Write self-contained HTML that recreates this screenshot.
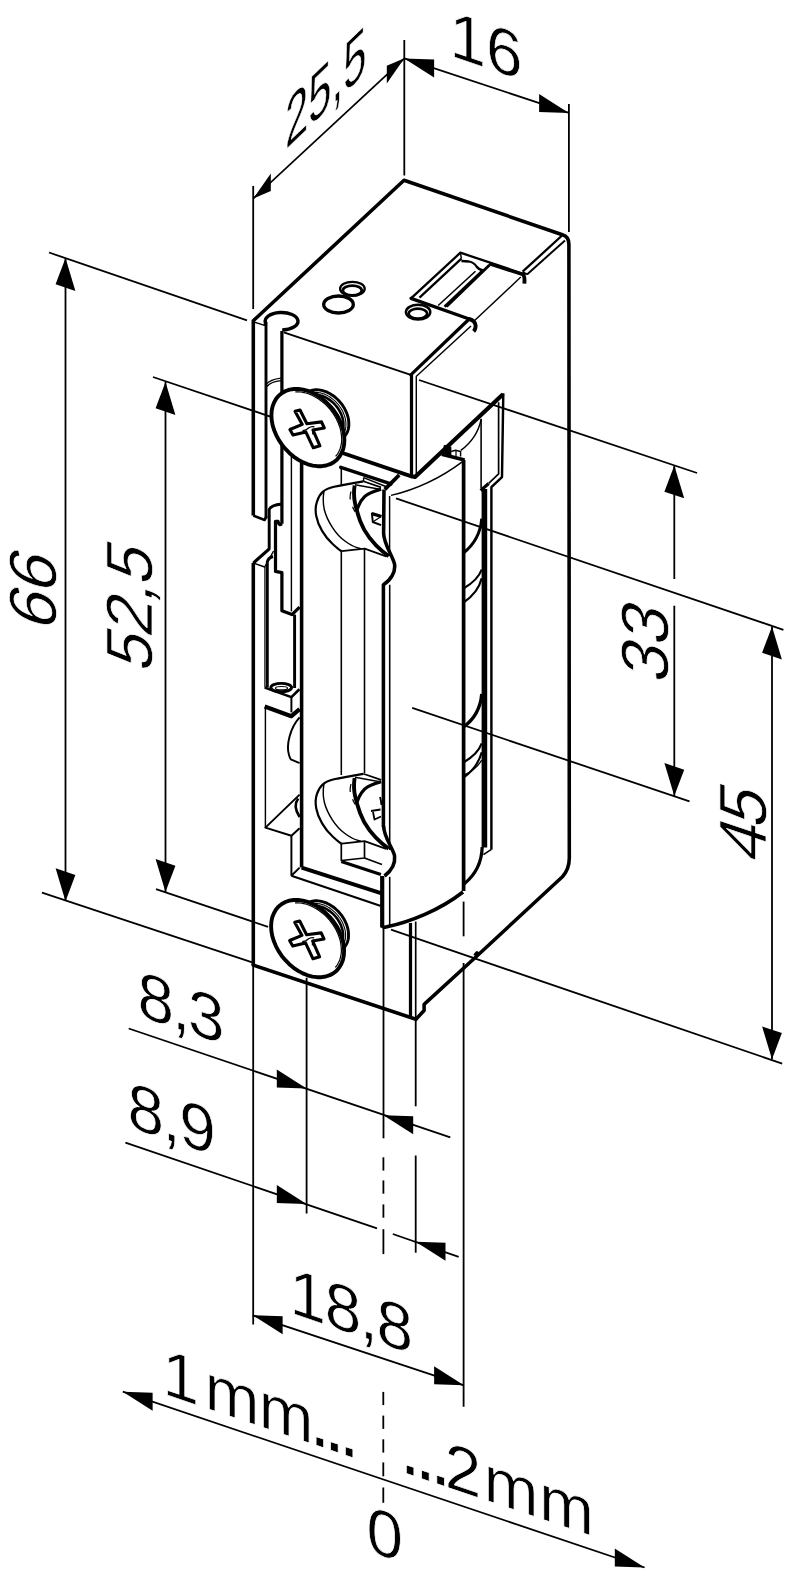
<!DOCTYPE html>
<html lang="de"><head><meta charset="utf-8"><title>Maßzeichnung</title>
<style>html,body{margin:0;padding:0;background:#fff}svg{display:block}text{stroke:#fff;stroke-width:0.7px}</style>
</head><body>
<svg width="788" height="1585" viewBox="0 0 788 1585" stroke="#000" fill="#000" stroke-linejoin="round" font-family="'Liberation Sans', sans-serif">
<line x1="253.2" y1="186" x2="253.2" y2="309" stroke-width="1.8" stroke-linecap="butt"/>
<line x1="404.3" y1="40" x2="404.3" y2="175.5" stroke-width="1.8" stroke-linecap="butt"/>
<line x1="568.9" y1="104" x2="568.9" y2="232" stroke-width="1.8" stroke-linecap="butt"/>
<line x1="253.2" y1="198.6" x2="404.4" y2="58.3" stroke-width="1.8" stroke-linecap="butt"/>
<path d="M253.2 198.6 L270.8 173.5 L270.8 191.1 Z" fill="#000" stroke="none"/>
<path d="M404.4 58.3 L386.8 65.8 L386.8 83.4 Z" fill="#000" stroke="none"/>
<line x1="404.3" y1="58.4" x2="568.9" y2="112.9" stroke-width="1.8" stroke-linecap="butt"/>
<path d="M404.3 58.4 L434.1 59.4 L434.1 77.4 Z" fill="#000" stroke="none"/>
<path d="M568.9 112.9 L539.1 93.9 L539.1 111.9 Z" fill="#000" stroke="none"/>
<line x1="49" y1="252.5" x2="247" y2="320.3" stroke-width="1.8" stroke-linecap="butt"/>
<line x1="65.5" y1="258" x2="65.5" y2="901" stroke-width="1.8" stroke-linecap="butt"/>
<path d="M65.5 258 L55.6 284.3 L75.4 290.9 Z" fill="#000" stroke="none"/>
<path d="M65.5 901.2 L55.6 868.3 L75.4 874.9 Z" fill="#000" stroke="none"/>
<line x1="42" y1="892.7" x2="253" y2="962.7" stroke-width="1.8" stroke-linecap="butt"/>
<line x1="153" y1="377" x2="271" y2="416.8" stroke-width="1.8" stroke-linecap="butt"/>
<line x1="165.5" y1="382" x2="165.5" y2="892" stroke-width="1.8" stroke-linecap="butt"/>
<path d="M165.5 382 L155.6 408.3 L175.4 414.9 Z" fill="#000" stroke="none"/>
<path d="M165.5 892 L155.6 859.1 L175.4 865.7 Z" fill="#000" stroke="none"/>
<line x1="156" y1="889.2" x2="268" y2="926.8" stroke-width="1.8" stroke-linecap="butt"/>
<line x1="419" y1="380" x2="697.1" y2="473" stroke-width="1.8" stroke-linecap="butt"/>
<line x1="674.3" y1="465.4" x2="674.3" y2="579" stroke-width="1.8" stroke-linecap="butt"/>
<line x1="674.3" y1="605.7" x2="674.3" y2="796" stroke-width="1.8" stroke-linecap="butt"/>
<path d="M674.3 465.4 L664.4 491.7 L684.2 498.3 Z" fill="#000" stroke="none"/>
<path d="M674.3 796 L664.4 763.1 L684.2 769.7 Z" fill="#000" stroke="none"/>
<line x1="412.2" y1="707.9" x2="689.5" y2="801.4" stroke-width="1.8" stroke-linecap="butt"/>
<line x1="396" y1="498.4" x2="783.4" y2="629.8" stroke-width="1.8" stroke-linecap="butt"/>
<line x1="772" y1="626.5" x2="772" y2="1059.3" stroke-width="1.8" stroke-linecap="butt"/>
<path d="M772 626.5 L762.1 652.8 L781.9 659.4 Z" fill="#000" stroke="none"/>
<path d="M772 1059.3 L762.1 1026.4 L781.9 1033 Z" fill="#000" stroke="none"/>
<line x1="391" y1="929.7" x2="782.2" y2="1063.6" stroke-width="1.8" stroke-linecap="butt"/>
<line x1="253.2" y1="965" x2="253.2" y2="1324.5" stroke-width="1.8" stroke-linecap="butt"/>
<line x1="306.6" y1="977.7" x2="306.6" y2="1213.5" stroke-width="1.8" stroke-linecap="butt"/>
<line x1="383.5" y1="927" x2="383.5" y2="1138.3" stroke-width="1.8" stroke-linecap="butt"/>
<line x1="383.4" y1="1157.3" x2="383.4" y2="1170.6" stroke-width="1.8" stroke-linecap="butt"/>
<line x1="383.4" y1="1180.4" x2="383.4" y2="1193.7" stroke-width="1.8" stroke-linecap="butt"/>
<line x1="383.4" y1="1204.4" x2="383.4" y2="1217.7" stroke-width="1.8" stroke-linecap="butt"/>
<line x1="383.4" y1="1229.2" x2="383.4" y2="1254.1" stroke-width="1.8" stroke-linecap="butt"/>
<line x1="415.7" y1="1018.3" x2="415.7" y2="1106.3" stroke-width="1.8" stroke-linecap="butt"/>
<line x1="415.7" y1="1155.5" x2="415.7" y2="1252.7" stroke-width="1.8" stroke-linecap="butt"/>
<line x1="463.6" y1="963" x2="463.6" y2="1406.7" stroke-width="1.8" stroke-linecap="butt"/>
<line x1="463.6" y1="901.6" x2="463.6" y2="936.3" stroke-width="1.8" stroke-linecap="butt"/>
<line x1="128.7" y1="1028.5" x2="450.3" y2="1137.4" stroke-width="1.8" stroke-linecap="butt"/>
<path d="M306.6 1088.6 L276.8 1069.6 L276.8 1087.6 Z" fill="#000" stroke="none"/>
<path d="M383.4 1115.2 L413.2 1116.2 L413.2 1134.2 Z" fill="#000" stroke="none"/>
<line x1="125.4" y1="1142.7" x2="377" y2="1228.3" stroke-width="1.8" stroke-linecap="butt"/>
<line x1="392.8" y1="1234" x2="458.7" y2="1256.8" stroke-width="1.8" stroke-linecap="butt"/>
<path d="M306.6 1204 L276.8 1185 L276.8 1203 Z" fill="#000" stroke="none"/>
<path d="M415.7 1241.8 L445.5 1242.8 L445.5 1260.8 Z" fill="#000" stroke="none"/>
<line x1="252.8" y1="1315.3" x2="463.9" y2="1385.3" stroke-width="1.8" stroke-linecap="butt"/>
<path d="M252.8 1315.3 L282.6 1316.3 L282.6 1334.3 Z" fill="#000" stroke="none"/>
<path d="M463.9 1385.3 L434.1 1366.3 L434.1 1384.3 Z" fill="#000" stroke="none"/>
<line x1="122.8" y1="1391.7" x2="644.6" y2="1567.5" stroke-width="1.8" stroke-linecap="butt"/>
<path d="M122.8 1391.7 L152.6 1392.7 L152.6 1410.7 Z" fill="#000" stroke="none"/>
<path d="M644.6 1567.5 L614.8 1548.5 L614.8 1566.5 Z" fill="#000" stroke="none"/>
<line x1="383.3" y1="1391.9" x2="383.3" y2="1405.1" stroke-width="1.8" stroke-linecap="butt"/>
<line x1="383.3" y1="1415.6" x2="383.3" y2="1428.9" stroke-width="1.8" stroke-linecap="butt"/>
<line x1="383.3" y1="1439.3" x2="383.3" y2="1452.6" stroke-width="1.8" stroke-linecap="butt"/>
<line x1="383.3" y1="1462.4" x2="383.3" y2="1476.3" stroke-width="1.8" stroke-linecap="butt"/>
<line x1="383.3" y1="1487.5" x2="383.3" y2="1502.8" stroke-width="1.8" stroke-linecap="butt"/>
<text transform="matrix(1 0.337 0 1 449.4 55.6)" font-size="65.6">16</text>
<text transform="matrix(1 0.337 0 1 137.6 1015.5)" font-size="65.6" letter-spacing="-2.2">8,3</text>
<text transform="matrix(1 0.337 0 1 127.5 1126.4)" font-size="65.6" letter-spacing="-1.5">8,9</text>
<text transform="matrix(1 0.337 0 1 289.6 1312.6)" font-size="65.6" letter-spacing="-1.4">18,8</text>
<text transform="matrix(1 0.337 0 1 162.5 1393.6)" font-size="65.6" letter-spacing="-0.7">1<tspan dx="6.5">mm</tspan><tspan dx="-4" font-size="80" letter-spacing="-7.6">...</tspan></text>
<text transform="matrix(1 0.337 0 1 399 1471)" font-size="65.6" letter-spacing="-0.5"><tspan font-size="80" letter-spacing="-7">...</tspan>2<tspan dx="3" letter-spacing="1">mm</tspan></text>
<text transform="matrix(1 0.337 0 1 366.6 1550.5)" font-size="65.6">0</text>
<text transform="matrix(0.639 -0.6134 0 1.07 285 150.5)" font-size="65.6">25,5</text>
<text transform="matrix(0 -1 1 0.337 56.2 633)" font-size="67">66</text>
<text transform="matrix(0 -1 1 0.337 152 674)" font-size="65.6" letter-spacing="-1.5">52,5</text>
<text transform="matrix(0 -1 1 0.337 668.3 685.4)" font-size="67">33</text>
<text transform="matrix(0 -1 1 0.337 765.8 865)" font-size="67" letter-spacing="-3">45</text>
<path d="M253.3 515.5 L253.3 320.8 L404 180.3 L562.4 234.7 Q568.8 236.5 568.9 244 L569.3 858 Q569.3 869 562.4 876.8 L476.1 956.7 L426 1002.6 L424.1 1004.6 L424.1 1010.5 L415.9 1019.3" stroke-width="3.56" fill="none"/>
<line x1="253.2" y1="965" x2="415.9" y2="1019.3" stroke-width="3.56" stroke-linecap="round"/>
<line x1="283.8" y1="332.4" x2="410.8" y2="374.9" stroke-width="1.96" stroke-linecap="butt"/>
<line x1="410.8" y1="374.9" x2="469.2" y2="319" stroke-width="3.24" stroke-linecap="round"/>
<line x1="415.9" y1="376.8" x2="471" y2="326" stroke-width="1.44" stroke-linecap="butt"/>
<path d="M469.2 319 Q475 320.5 475.6 325.4 Q475.9 329 473.6 331.4" stroke-width="3.88" fill="none"/>
<path d="M411 298.4 L460.4 252.7 L522.6 273.5" stroke-width="2.28" fill="none"/>
<line x1="411" y1="298.4" x2="469.2" y2="319" stroke-width="3.24" stroke-linecap="round"/>
<line x1="461.4" y1="258.6" x2="419.5" y2="297.6" stroke-width="2.28" stroke-linecap="butt"/>
<line x1="460.4" y1="252.7" x2="461.4" y2="258.6" stroke-width="1.44" stroke-linecap="butt"/>
<path d="M461.4 261 L469 261.5 Q474 262.5 476.5 266.5 Q479 270 483.5 270.5" stroke-width="2.28" fill="none"/>
<line x1="475.5" y1="271.2" x2="438.2" y2="305.5" stroke-width="1.56" stroke-linecap="butt"/>
<line x1="482.3" y1="271" x2="444.6" y2="306.7" stroke-width="2.92" stroke-linecap="butt"/>
<line x1="489.5" y1="265" x2="446.5" y2="306.5" stroke-width="2.92" stroke-linecap="butt"/>
<line x1="490.6" y1="264.3" x2="522.6" y2="274.5" stroke-width="3.24" stroke-linecap="round"/>
<line x1="520.8" y1="277.1" x2="474.9" y2="320.3" stroke-width="1.44" stroke-linecap="butt"/>
<path d="M522.6 273.5 Q525 276 524.4 283.6" stroke-width="3.88" fill="none"/>
<line x1="522.6" y1="271.7" x2="561.5" y2="236" stroke-width="2.28" stroke-linecap="butt"/>
<line x1="527" y1="274.4" x2="565" y2="240.5" stroke-width="1.96" stroke-linecap="butt"/>
<line x1="522.6" y1="272" x2="527" y2="274.4" stroke-width="1.96" stroke-linecap="butt"/>
<ellipse cx="352.4" cy="288.8" rx="12.3" ry="7" stroke-width="2.28" fill="none"/>
<ellipse cx="352.3" cy="290.5" rx="9.4" ry="4.9" stroke-width="2.76" fill="none"/>
<ellipse cx="338.5" cy="304.5" rx="14.8" ry="8.5" stroke-width="3.3" fill="#fff"/>
<ellipse cx="418.1" cy="312.1" rx="12.2" ry="7.4" stroke-width="2.44" fill="none"/>
<ellipse cx="417.9" cy="313.6" rx="9.2" ry="5" stroke-width="2.6" fill="none"/>
<line x1="253.3" y1="563.1" x2="253.3" y2="965" stroke-width="3.56" stroke-linecap="butt"/>
<line x1="252.7" y1="321.6" x2="264.5" y2="325.4" stroke-width="1.44" stroke-linecap="butt"/>
<line x1="266" y1="322" x2="266" y2="518.7" stroke-width="2.92" stroke-linecap="butt"/>
<path d="M253.3 515.5 L264.7 520 L266.5 516" stroke-width="2.6" fill="none"/>
<path d="M265.4 326 L265.4 322.6 A16.4 8.7 0 1 1 282.2 329.9" stroke-width="3.4" fill="none"/>
<line x1="281.9" y1="331" x2="281.9" y2="523.8" stroke-width="3.24" stroke-linecap="butt"/>
<path d="M266 384.5 Q270 379.5 281 378.2 M267 386.5 Q271 381.5 281 380.6" stroke-width="1.32" fill="none"/>
<path d="M269.2 549 L269.2 509.5 Q271 505 281.9 504" stroke-width="2.92" fill="none"/>
<path d="M281.9 523.8 Q279 526 278 521.3 L275.5 521.3 L275.5 571.4 L281.9 572.7 L281.9 610.8 L292 614.6 L299.6 607.2" stroke-width="3.24" fill="none"/>
<line x1="291.4" y1="445" x2="291.4" y2="611.4" stroke-width="1.44" stroke-linecap="butt"/>
<line x1="301.6" y1="450" x2="301.6" y2="867.6" stroke-width="3.56" stroke-linecap="butt"/>
<path d="M269.6 548.6 L253.3 563.1" stroke-width="3.24" fill="none"/>
<path d="M253.3 563.1 L264.7 567 L273.6 551" stroke-width="1.44" fill="none"/>
<path d="M267.3 687.6 L267.3 562 Q268 558 273 556.5" stroke-width="2.92" fill="none"/>
<line x1="264.9" y1="567" x2="264.9" y2="687.6" stroke-width="1.2" stroke-linecap="butt"/>
<line x1="294.6" y1="614.6" x2="294.6" y2="688" stroke-width="2.92" stroke-linecap="butt"/>
<ellipse cx="281.2" cy="687.6" rx="10.4" ry="4.2" stroke-width="2.92" fill="none"/>
<ellipse cx="281.5" cy="688.2" rx="6" ry="1.7" stroke-width="1.2" fill="none"/>
<path d="M264.7 687.6 L291.4 697.1 L299.4 689.2" stroke-width="2.6" fill="none"/>
<line x1="291.4" y1="697.1" x2="291.4" y2="712.4" stroke-width="1.96" stroke-linecap="butt"/>
<path d="M264.7 706.6 L291.4 716.2 L299.6 709.2" stroke-width="4.2" fill="none"/>
<line x1="265.4" y1="707.3" x2="265.4" y2="827.6" stroke-width="1.44" stroke-linecap="butt"/>
<path d="M299.6 717.4 C290 728 286 745 289 755 Q290 758.5 290.8 759.3 L299.6 763.1" stroke-width="1.96" fill="none"/>
<path d="M299.6 794.6 L265.4 827.6 L291.4 835.8 L299.6 828.2" stroke-width="1.96" fill="none"/>
<path d="M298.2 798.5 Q292.5 806 299.6 817" stroke-width="2.6" fill="none"/>
<line x1="291.4" y1="835.8" x2="291.4" y2="875.8" stroke-width="1.96" stroke-linecap="butt"/>
<line x1="291.4" y1="875.8" x2="299.6" y2="867.6" stroke-width="1.96" stroke-linecap="butt"/>
<line x1="291.4" y1="875.8" x2="380.9" y2="906" stroke-width="2.12" stroke-linecap="butt"/>
<line x1="301.6" y1="867.6" x2="380.9" y2="893.2" stroke-width="3.88" stroke-linecap="butt"/>
<line x1="411.5" y1="374.9" x2="411.5" y2="476.3" stroke-width="3.24" stroke-linecap="butt"/>
<line x1="416.3" y1="376.8" x2="416.3" y2="476.5" stroke-width="1.44" stroke-linecap="butt"/>
<line x1="344" y1="453.5" x2="411.5" y2="476.3" stroke-width="3.88" stroke-linecap="round"/>
<path d="M411.5 476.3 L415 477 L503 394.2" stroke-width="4.2" fill="none"/>
<line x1="340.8" y1="467.4" x2="390.9" y2="483.9" stroke-width="3.56" stroke-linecap="round"/>
<line x1="341.3" y1="467.4" x2="341.3" y2="485.5" stroke-width="1.56" stroke-linecap="butt"/>
<line x1="341.3" y1="551.2" x2="341.3" y2="775" stroke-width="1.56" stroke-linecap="butt"/>
<line x1="364.5" y1="548.7" x2="364.5" y2="773" stroke-width="1.56" stroke-linecap="butt"/>
<line x1="363.6" y1="477.6" x2="385.8" y2="486.5" stroke-width="1.44" stroke-linecap="butt"/>
<line x1="363.6" y1="477.6" x2="363.6" y2="481" stroke-width="1.44" stroke-linecap="butt"/>
<line x1="399.2" y1="475" x2="384.8" y2="489.4" stroke-width="3.88" stroke-linecap="butt"/>
<path d="M384 489.6 L383.6 533.5 C384 545 393 556 394.6 564.4 C395.5 572 391 580 383.4 584.7 L383.4 827" stroke-width="3.56" fill="none"/>
<line x1="389.6" y1="496" x2="389.6" y2="556" stroke-width="1.44" stroke-linecap="butt"/>
<line x1="389.7" y1="584.7" x2="389.7" y2="850" stroke-width="1.56" stroke-linecap="butt"/>
<path d="M381.1 516.3 L371.9 513.6 L372.8 522 L381.1 525.2" stroke-width="1.96" fill="none"/>
<line x1="371.9" y1="513.6" x2="381.5" y2="516.5" stroke-width="3.24" stroke-linecap="butt"/>
<line x1="373" y1="521.8" x2="380" y2="517.3" stroke-width="1.2" stroke-linecap="butt"/>
<path d="M391 495.4 Q430 486 462.2 461.8" stroke-width="1.44" fill="none"/>
<path d="M383.6 826 C384 838 393 848 394.6 856 C395.5 864 391 871 384.5 876" stroke-width="3.56" fill="none"/>
<line x1="382.2" y1="876" x2="382.2" y2="927.5" stroke-width="4.2" stroke-linecap="butt"/>
<line x1="389.7" y1="876.8" x2="389.7" y2="925" stroke-width="1.56" stroke-linecap="butt"/>
<path d="M382.2 925 Q382.4 927.8 386 927 C410 922 440 910 463 892" stroke-width="3.56" fill="none"/>
<path d="M341.3 843.7 L341.3 860.5 L364.5 858 L364.5 841.2" stroke-width="1.68" fill="none"/>
<line x1="364.5" y1="858" x2="382" y2="864.5" stroke-width="1.68" stroke-linecap="butt"/>
<line x1="341.3" y1="861.5" x2="380.9" y2="874.5" stroke-width="3.24" stroke-linecap="butt"/>
<path d="M371 811 L380.5 809.5 M373 812 L374.5 819.5 L381 816.5 M380 797 q1.2 4 1.4 8" stroke-width="1.8" fill="none"/>
<line x1="463.6" y1="460" x2="463.6" y2="891" stroke-width="3.72" stroke-linecap="butt"/>
<line x1="441.7" y1="454.2" x2="464.6" y2="460" stroke-width="3.56" stroke-linecap="butt"/>
<path d="M444.6 446 L444.6 454.5 L450.4 455.5 L450.4 447.5 Z" stroke-width="1.96" fill="#000"/>
<path d="M451.2 451.5 L455.5 450.2 L460.6 451.5 L460.6 456.5" stroke-width="1.44" fill="none"/>
<line x1="456" y1="450.5" x2="456" y2="457" stroke-width="1.2" stroke-linecap="butt"/>
<path d="M481.1 419.3 C478 435 468 445 460.8 450.4" stroke-width="1.44" fill="none"/>
<line x1="481.1" y1="418.7" x2="481.1" y2="488" stroke-width="1.56" stroke-linecap="butt"/>
<path d="M503.3 393.3 L502 477.1 L491.4 487.2 L491.4 849.4" stroke-width="2.44" fill="none"/>
<path d="M498.6 402.2 L498.6 473.9 L488.7 483.4" stroke-width="1.68" fill="none"/>
<line x1="484.4" y1="489" x2="484.4" y2="847.4" stroke-width="5.6" stroke-linecap="butt"/>
<path d="M480.6 490.4 L488.7 483.4" stroke-width="3.24" fill="none"/>
<path d="M481.7 518.7 Q480 540 463.5 553" stroke-width="2.92" fill="none"/>
<path d="M481.7 569.5 Q478 580 463.5 588.5" stroke-width="2.12" fill="none"/>
<path d="M481.7 578.3 Q478 593 463.5 602.5" stroke-width="2.12" fill="none"/>
<path d="M481.7 694 Q480 715 463.5 727" stroke-width="3.24" fill="none"/>
<path d="M481.7 743.4 Q478 754 463.5 762.5" stroke-width="2.12" fill="none"/>
<path d="M481.7 752.3 Q478 767 463.5 777.7" stroke-width="2.12" fill="none"/>
<path d="M481.7 760 Q476 770 463.5 775.3" stroke-width="1.32" fill="none"/>
<path d="M482.2 847 Q481.5 870 464 884" stroke-width="3.24" fill="none"/>
<line x1="491.4" y1="849.4" x2="483.4" y2="854.6" stroke-width="1.68" stroke-linecap="butt"/>
<line x1="410.5" y1="923" x2="410.5" y2="1017.8" stroke-width="3.24" stroke-linecap="butt"/>
<line x1="415.7" y1="921.5" x2="415.7" y2="1019" stroke-width="1.68" stroke-linecap="butt"/>
<path d="M474.5 955.5 l2.5 -3 l2 2.4" stroke-width="2.92" fill="none"/>
<path d="M363.3 481.3 Q341.7 485 334.1 486.8 Q326.5 488.5 322.7 491.9 Q318.9 495.4 316.9 501.8 Q314.8 508.1 316.2 515.7 Q317.6 523.3 322.1 530.9 Q326.5 538.5 332.9 544.2 Q339.2 549.9 340.4 550.5 L341.7 551.2" stroke-width="2.2" fill="none"/>
<path d="M341.7 551.2 L364.6 548.7 L386.1 556.3" stroke-width="1.8" fill="none"/>
<path d="M363.3 481.3 L381.1 487.4" stroke-width="1.68" fill="none"/>
<path d="M355 484.8 L381.1 489.5" stroke-width="1.44" fill="none"/>
<path d="M324 490.9 Q322.3 501.7 324.4 510 Q326.5 518.2 332.2 527.1 Q337.9 536 344.9 541 Q351.9 546.1 356.4 547.4 L360.8 548.7" stroke-width="1.44" fill="none"/>
<path d="M354.6 485.5 Q353.2 495.4 355.1 503.6 Q357 511.9 360.1 520.8 Q363.3 529.6 369.6 537.9 Q376 546.1 382.4 551.2 L388.7 556.3" stroke-width="3.88" fill="none"/>
<path d="M381.1 489.3 Q368.4 492.8 364.6 496.6 Q360.8 500.5 359 504.8 L357.2 509" stroke-width="3.24" fill="none"/>
<path d="M351 491.5 q-1.2 4 -0.8 8 M352.6 506.8 q1 3 2.6 5" stroke-width="1.2" fill="none"/>
<path d="M363.3 773.8 Q341.7 777.5 334.1 779.2 Q326.5 781 322.7 784.5 Q318.9 787.9 316.9 794.2 Q314.8 800.6 316.2 808.2 Q317.6 815.8 322.1 823.4 Q326.5 831 332.9 836.7 Q339.2 842.4 340.4 843 L341.7 843.7" stroke-width="2.2" fill="none"/>
<path d="M341.7 843.7 L364.6 841.2 L386.1 848.8" stroke-width="1.8" fill="none"/>
<path d="M363.3 773.8 L381.1 779.9" stroke-width="1.68" fill="none"/>
<path d="M355 777.3 L381.1 782" stroke-width="1.44" fill="none"/>
<path d="M324 783.4 Q322.3 794.2 324.4 802.5 Q326.5 810.7 332.2 819.6 Q337.9 828.5 344.9 833.5 Q351.9 838.6 356.4 839.9 L360.8 841.2" stroke-width="1.44" fill="none"/>
<path d="M354.6 778 Q353.2 787.9 355.1 796.1 Q357 804.4 360.1 813.2 Q363.3 822.1 369.6 830.4 Q376 838.6 382.4 843.7 L388.7 848.8" stroke-width="3.88" fill="none"/>
<path d="M381.1 781.8 Q368.4 785.3 364.6 789.1 Q360.8 793 359 797.2 L357.2 801.5" stroke-width="3.24" fill="none"/>
<path d="M351 784 q-1.2 4 -0.8 8 M352.6 799.3 q1 3 2.6 5" stroke-width="1.2" fill="none"/>
<path d="M308.7 391.6 L309.9 391 L311.3 390.5 L312.6 390.2 L314.1 389.9 L315.5 389.8 L317 389.8 L318.6 389.9 L320.2 390.1 L321.7 390.4 L323.3 390.8 L324.9 391.3 L326.5 391.9 L328.1 392.7 L329.7 393.5 L331.2 394.4 L332.8 395.4 L334.2 396.5 L335.7 397.7 L337.1 399 L338.4 400.3 L339.7 401.7 L340.9 403.1 L342.1 404.6 L343.1 406.2 L344.1 407.8 L345 409.4 L345.8 411.1 L346.6 412.8 L347.2 414.5 L347.7 416.2 L348.2 417.9 L348.5 419.5 L348.7 421.2 L348.8 422.9 L348.8 424.5 L348.8 426.1 L348.6 427.6 L348.3 429.1 L347.9 430.5 L347.4 431.9 L346.8 433.1 L346.1 434.4 L345.3 435.5 L344.4 436.6 L343.5 437.5 L342.4 438.4 L341.3 439.2 L340.1 439.8" stroke-width="2.92" fill="none"/>
<path d="M311.7 392.9 L312.9 392.7 L314.1 392.5 L315.3 392.4 L316.6 392.4 L317.8 392.5 L319.1 392.7 L320.5 392.9 L321.8 393.3 L323.1 393.7 L324.4 394.1 L325.7 394.7 L327.1 395.3 L328.4 396.1 L329.6 396.8 L330.9 397.7 L332.1 398.6 L333.3 399.6 L334.5 400.6 L335.6 401.7 L336.7 402.8 L337.8 404 L338.8 405.2 L339.7 406.5 L340.6 407.7 L341.4 409.1 L342.2 410.4 L342.9 411.8 L343.5 413.2 L344 414.6 L344.5 416 L345 417.4 L345.3 418.8 L345.6 420.2 L345.8 421.6 L345.9 422.9 L345.9 424.3 L345.9 425.6 L345.8 426.9 L345.6 428.2 L345.3 429.4 L345 430.5 L344.5 431.7 L344 432.7 L343.5 433.8 L342.9 434.7 L342.2 435.6 L341.4 436.5 L340.6 437.2" stroke-width="1.08" fill="none"/>
<path d="M309.9 395.7 L310.9 395.3 L312 395.1 L313.1 394.9 L314.2 394.8 L315.4 394.8 L316.6 394.8 L317.8 394.9 L319 395.1 L320.2 395.4 L321.5 395.7 L322.7 396.1 L324 396.6 L325.2 397.2 L326.4 397.8 L327.6 398.5 L328.8 399.3 L330 400.1 L331.1 401 L332.2 401.9 L333.3 402.9 L334.3 403.9 L335.3 405 L336.3 406.1 L337.2 407.3 L338.1 408.5 L338.8 409.7 L339.6 411 L340.3 412.3 L340.9 413.5 L341.5 414.8 L341.9 416.2 L342.4 417.5 L342.7 418.8 L343 420.1 L343.2 421.4 L343.4 422.7 L343.4 424 L343.4 425.2 L343.4 426.4 L343.2 427.6 L343 428.8 L342.7 429.9 L342.4 431 L341.9 432 L341.5 433 L340.9 433.9 L340.3 434.8 L339.6 435.6" stroke-width="2.6" fill="none"/>
<path d="M344.4 439.9 L344.1 444.6 L343.2 449 L341.6 453 L339.5 456.6 L336.9 459.7 L333.7 462.2 L330.1 464.2 L326.1 465.5 L321.9 466.2 L317.3 466.2 L312.7 465.6 L307.9 464.3 L303.1 462.4 L298.5 459.9 L293.9 456.8 L289.6 453.2 L285.7 449.2 L282.1 444.9 L278.9 440.2 L276.3 435.3 L274.2 430.3 L272.6 425.2 L271.7 420.2 L271.4 415.3 L271.7 410.6 L272.6 406.2 L274.2 402.2 L276.3 398.6 L278.9 395.5 L282.1 393 L285.7 391 L289.6 389.7 L293.9 389 L298.5 389 L303.1 389.6 L307.9 390.9 L312.7 392.8 L317.3 395.3 L321.9 398.4 L326.1 402 L330.1 406 L333.7 410.3 L336.9 415 L339.5 419.9 L341.6 424.9 L343.2 430 L344.1 435 L344.4 439.9 Z" stroke-width="3.88" fill="#fff"/>
<path d="M295.3 391.9 L296.9 391.8 L298.7 391.8 L300.4 392 L302.2 392.2 L304 392.6 L305.8 393 L307.6 393.5 L309.4 394.2 L311.2 394.9 L313 395.7 L314.7 396.7 L316.5 397.7 L318.2 398.8 L319.9 399.9 L321.6 401.2 L323.2 402.5 L324.8 403.9 L326.4 405.4 L327.8 406.9 L329.3 408.5 L330.6 410.2 L331.9 411.9 L333.2 413.6 L334.3 415.4 L335.4 417.2 L336.4 419 L337.3 420.9 L338.2 422.8 L338.9 424.7 L339.6 426.6 L340.2 428.5 L340.7 430.4 L341 432.3 L341.3 434.2 L341.5 436.1 L341.6 437.9 L341.7 439.8 L341.6 441.5 L341.4 443.3 L341.1 445 L340.7 446.6 L340.3 448.2 L339.7 449.7 L339 451.2 L338.3 452.6 L337.5 454 L336.6 455.2 L335.6 456.4" stroke-width="1.2" fill="none"/>
<path d="M295 411.3 L300 410 L306.9 423.8 L321.5 421.9 L324.3 428 L312.9 429.9 L319.9 445.8 L313.3 447.8 L305.8 431.9 L293 435.1 L289.9 429.5 L302.3 424.4 Z" stroke-width="3.08" fill="none"/>
<path d="M302.5 430.6 q4 -0.3 6 -2.6 q2.5 -2 6 -1.2" stroke-width="1.2" fill="none"/>
<path d="M314.6 429.4 q-1.8 1.2 -1.4 5" stroke-width="2.12" fill="none"/>
<path d="M308.4 902.6 L309.6 902 L311 901.5 L312.3 901.2 L313.8 900.9 L315.2 900.8 L316.7 900.8 L318.3 900.9 L319.9 901.1 L321.4 901.4 L323 901.8 L324.6 902.3 L326.2 902.9 L327.8 903.7 L329.4 904.5 L330.9 905.4 L332.5 906.4 L333.9 907.5 L335.4 908.7 L336.8 910 L338.1 911.3 L339.4 912.7 L340.6 914.1 L341.8 915.6 L342.8 917.2 L343.8 918.8 L344.7 920.4 L345.5 922.1 L346.3 923.8 L346.9 925.5 L347.4 927.2 L347.9 928.9 L348.2 930.5 L348.4 932.2 L348.5 933.9 L348.5 935.5 L348.5 937.1 L348.3 938.6 L348 940.1 L347.6 941.5 L347.1 942.9 L346.5 944.1 L345.8 945.4 L345 946.5 L344.1 947.6 L343.2 948.5 L342.1 949.4 L341 950.2 L339.8 950.8" stroke-width="2.92" fill="none"/>
<path d="M311.4 903.9 L312.6 903.7 L313.8 903.5 L315 903.4 L316.3 903.4 L317.5 903.5 L318.8 903.7 L320.2 903.9 L321.5 904.3 L322.8 904.7 L324.1 905.1 L325.4 905.7 L326.8 906.3 L328.1 907.1 L329.3 907.8 L330.6 908.7 L331.8 909.6 L333 910.6 L334.2 911.6 L335.3 912.7 L336.4 913.8 L337.5 915 L338.5 916.2 L339.4 917.5 L340.3 918.7 L341.1 920.1 L341.9 921.4 L342.6 922.8 L343.2 924.2 L343.7 925.6 L344.2 927 L344.7 928.4 L345 929.8 L345.3 931.2 L345.5 932.6 L345.6 933.9 L345.6 935.3 L345.6 936.6 L345.5 937.9 L345.3 939.2 L345 940.4 L344.7 941.5 L344.2 942.7 L343.7 943.7 L343.2 944.8 L342.6 945.7 L341.9 946.6 L341.1 947.5 L340.3 948.2" stroke-width="1.08" fill="none"/>
<path d="M309.6 906.7 L310.6 906.3 L311.7 906.1 L312.8 905.9 L313.9 905.8 L315.1 905.8 L316.3 905.8 L317.5 905.9 L318.7 906.1 L319.9 906.4 L321.2 906.7 L322.4 907.1 L323.7 907.6 L324.9 908.2 L326.1 908.8 L327.3 909.5 L328.5 910.3 L329.7 911.1 L330.8 912 L331.9 912.9 L333 913.9 L334 914.9 L335 916 L336 917.1 L336.9 918.3 L337.8 919.5 L338.5 920.7 L339.3 922 L340 923.3 L340.6 924.5 L341.2 925.8 L341.6 927.2 L342.1 928.5 L342.4 929.8 L342.7 931.1 L342.9 932.4 L343.1 933.7 L343.1 935 L343.1 936.2 L343.1 937.4 L342.9 938.6 L342.7 939.8 L342.4 940.9 L342.1 942 L341.6 943 L341.2 944 L340.6 944.9 L340 945.8 L339.3 946.6" stroke-width="2.6" fill="none"/>
<path d="M344.1 950.9 L343.8 955.6 L342.9 960 L341.3 964 L339.2 967.6 L336.6 970.7 L333.4 973.2 L329.8 975.2 L325.8 976.5 L321.6 977.2 L317 977.2 L312.4 976.6 L307.6 975.3 L302.8 973.4 L298.2 970.9 L293.6 967.8 L289.3 964.2 L285.4 960.2 L281.8 955.9 L278.6 951.2 L276 946.3 L273.9 941.3 L272.3 936.2 L271.4 931.2 L271.1 926.3 L271.4 921.6 L272.3 917.2 L273.9 913.2 L276 909.6 L278.6 906.5 L281.8 904 L285.4 902 L289.3 900.7 L293.6 900 L298.2 900 L302.8 900.6 L307.6 901.9 L312.4 903.8 L317 906.3 L321.6 909.4 L325.8 913 L329.8 917 L333.4 921.3 L336.6 926 L339.2 930.9 L341.3 935.9 L342.9 941 L343.8 946 L344.1 950.9 Z" stroke-width="3.88" fill="#fff"/>
<path d="M295 902.9 L296.6 902.8 L298.4 902.8 L300.1 903 L301.9 903.2 L303.7 903.6 L305.5 904 L307.3 904.5 L309.1 905.2 L310.9 905.9 L312.7 906.7 L314.4 907.7 L316.2 908.7 L317.9 909.8 L319.6 910.9 L321.3 912.2 L322.9 913.5 L324.5 914.9 L326.1 916.4 L327.5 917.9 L329 919.5 L330.3 921.2 L331.6 922.9 L332.9 924.6 L334 926.4 L335.1 928.2 L336.1 930 L337 931.9 L337.9 933.8 L338.6 935.7 L339.3 937.6 L339.9 939.5 L340.4 941.4 L340.7 943.3 L341 945.2 L341.2 947.1 L341.3 948.9 L341.4 950.8 L341.3 952.5 L341.1 954.3 L340.8 956 L340.4 957.6 L340 959.2 L339.4 960.7 L338.7 962.2 L338 963.6 L337.2 965 L336.3 966.2 L335.3 967.4" stroke-width="1.2" fill="none"/>
<path d="M294.7 922.3 L299.7 921 L306.6 934.8 L321.2 932.9 L324 939 L312.6 940.9 L319.6 956.8 L313 958.8 L305.5 942.9 L292.7 946.1 L289.6 940.5 L302 935.4 Z" stroke-width="3.08" fill="none"/>
<path d="M302.2 941.6 q4 -0.3 6 -2.6 q2.5 -2 6 -1.2" stroke-width="1.2" fill="none"/>
<path d="M314.3 940.4 q-1.8 1.2 -1.4 5" stroke-width="2.12" fill="none"/>
</svg>
</body></html>
